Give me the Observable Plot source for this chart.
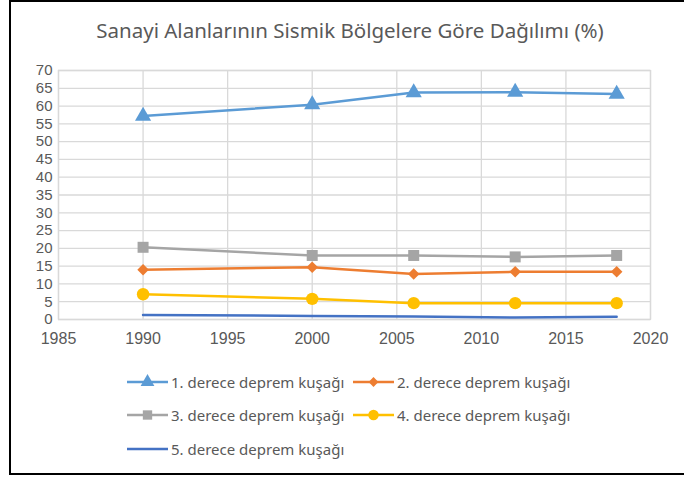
<!DOCTYPE html>
<html>
<head>
<meta charset="utf-8">
<script src="https://cdn.jsdelivr.net/npm/d3@7"></script>
<script src="https://cdn.jsdelivr.net/npm/@observablehq/plot@0.6"></script>
<style>
  html, body { margin: 0; padding: 0; background: #fff; }
  body { width: 684px; height: 478px; position: relative; overflow: hidden; font-family: "Noto Sans", sans-serif; color: #595959; }
  #border { position: absolute; left: 9px; top: 0px; width: 700px; height: 475px; border: 2px solid #000; box-sizing: border-box; }
  #title { position: absolute; left: 0; width: 700px; top: 16px; text-align: center; font-size: 20.5px; color: #595959; }
  #chart { position: absolute; left: 0; top: 50px; }
  .leg { position: absolute; font-size: 15px; color: #595959; white-space: nowrap; display: flex; align-items: center; }
  .leg svg { margin-right: 3px; }
</style>
</head>
<body>
<div id="border"></div>
<div id="title">Sanayi Alanlarının Sismik Bölgelere Göre Dağılımı (%)</div>
<div id="chart"></div>
<div id="legend"></div>
<script>
const years = [1990, 2000, 2006, 2012, 2018];
const seriesNames = [
  "1. derece deprem kuşağı",
  "2. derece deprem kuşağı",
  "3. derece deprem kuşağı",
  "4. derece deprem kuşağı",
  "5. derece deprem kuşağı"
];
const s1 = [57.2, 60.4, 63.8, 63.9, 63.4];
const s2 = [14.0, 14.7, 12.8, 13.4, 13.4];
const s3 = [20.3, 18.0, 18.0, 17.6, 18.0];
const s4 = [7.1, 5.8, 4.6, 4.6, 4.6];
const s5 = [1.3, 1.0, 0.85, 0.55, 0.75];
const xTicks = [1985, 1990, 1995, 2000, 2005, 2010, 2015, 2020];
const yTicks = [0, 5, 10, 15, 20, 25, 30, 35, 40, 45, 50, 55, 60, 65, 70];
const colors = ["#5B9BD5", "#ED7D31", "#A5A5A5", "#FFC000", "#4472C4"];
const symbols = ["triangle", "diamond2", "square", "circle", null];
const radii = [6, 5.2, 6.2, 6.2, 0];

const allSeries = [s1, s2, s3, s4, s5];
const data = [];
allSeries.forEach((vals, i) => vals.forEach((v, j) => data.push({year: years[j], value: v, series: seriesNames[i], idx: i})));

const marks = [
  Plot.gridX(xTicks, {stroke: "#d9d9d9", strokeOpacity: 1, strokeWidth: 1.3}),
  Plot.gridY(yTicks, {stroke: "#d9d9d9", strokeOpacity: 1, strokeWidth: 1.3}),
  Plot.frame({stroke: "#d9d9d9", strokeWidth: 1.3}),
  Plot.axisX({ticks: xTicks, tickSize: 0, tickPadding: 13, tickFormat: d => String(d), fontSize: 16, fill: "#595959", label: null, fontFamily: "Liberation Sans, sans-serif"}),
  Plot.axisY({ticks: yTicks, tickSize: 0, tickPadding: 6, fontSize: 15, fill: "#595959", label: null, fontFamily: "Liberation Sans, sans-serif"})
];
seriesNames.forEach((name, i) => {
  const d = data.filter(r => r.idx === i);
  marks.push(Plot.line(d, {x: "year", y: "value", stroke: colors[i], strokeWidth: 2.5}));
  if (symbols[i]) {
    marks.push(Plot.dot(d, {x: "year", y: "value", fill: colors[i], stroke: "none", symbol: symbols[i], r: radii[i]}));
  }
});

const chart = Plot.plot({
  width: 684,
  height: 300,
  marginLeft: 58,
  marginRight: 34,
  marginTop: 20,
  marginBottom: 31,
  style: {fontFamily: "Liberation Sans, sans-serif", background: "transparent", color: "#595959"},
  x: {domain: [1985, 2020]},
  y: {domain: [0, 70]},
  marks
});
document.getElementById("chart").appendChild(chart);

// Legend
const legPos = [
  {left: 127, top: 382}, {left: 353, top: 382},
  {left: 127, top: 415}, {left: 353, top: 415},
  {left: 127, top: 449}
];
const legend = document.getElementById("legend");
seriesNames.forEach((name, i) => {
  const div = document.createElement("div");
  div.className = "leg";
  div.style.left = legPos[i].left + "px";
  div.style.top = (legPos[i].top - 11) + "px";
  const svg = d3.create("svg").attr("width", 41).attr("height", 22);
  svg.append("line").attr("x1", 0).attr("x2", 41).attr("y1", 11).attr("y2", 11).attr("stroke", colors[i]).attr("stroke-width", 2.5);
  if (symbols[i]) {
    const symMap = {triangle: d3.symbolTriangle, diamond2: d3.symbolDiamond2, square: d3.symbolSquare, circle: d3.symbolCircle};
    const rr = radii[i] * 0.85;
    svg.append("path").attr("transform", "translate(20.5,11)").attr("d", d3.symbol(symMap[symbols[i]], Math.PI * rr * rr)()).attr("fill", colors[i]);
  }
  div.appendChild(svg.node());
  const span = document.createElement("span");
  span.textContent = name;
  div.appendChild(span);
  legend.appendChild(div);
});
</script>
</body>
</html>
